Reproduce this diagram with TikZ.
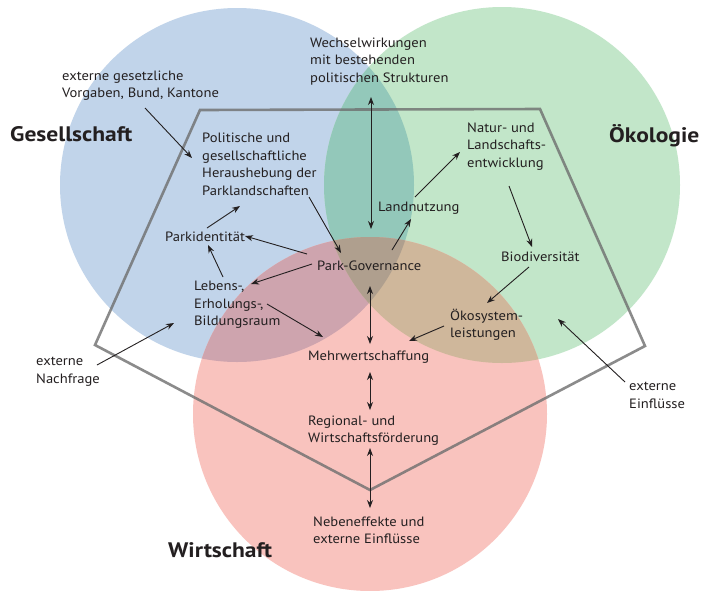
\documentclass[tikz,border=0pt]{standalone}
\usepackage{fontspec}
\setmainfont{PT Sans}[FakeStretch=1.08]
\newfontfamily\ttlfont{PT Sans}[FakeStretch=1.12]
\usetikzlibrary{arrows.meta}
\definecolor{cB}{HTML}{C1D4EA}
\definecolor{cG}{HTML}{C2E6C9}
\definecolor{cR}{HTML}{F9C3BE}
\definecolor{cBG}{HTML}{93C8BA}
\definecolor{cBR}{HTML}{CEA4AE}
\definecolor{cGR}{HTML}{CFB79B}
\definecolor{cBGR}{HTML}{AF9F8E}
\definecolor{txt}{HTML}{231F20}
\definecolor{frame}{HTML}{6E6E6E}
\tikzset{
  lbl/.style={font=\fontsize{13.5}{17.5}\selectfont, text=txt, align=left, inner sep=0pt, anchor=west},
  ttl/.style={font=\ttlfont\fontsize{21}{25}\selectfont\bfseries, text=txt, inner sep=0pt, anchor=west},
  arr/.style={draw=txt, line width=0.9pt, -{Stealth[length=8pt,width=6pt]}},
  darr/.style={draw=txt, line width=0.9pt, {Stealth[length=8pt,width=6pt]}-{Stealth[length=8pt,width=6pt]}},
  frameline/.style={draw=frame, line width=2.6pt, opacity=0.8, line join=miter}
}
\begin{document}
\begin{tikzpicture}[x=1pt,y=-1pt]
\useasboundingbox (0,0) rectangle (704,590);
\fill[white] (0,0) rectangle (704,590);
% circles
\fill[cB] (237,185) circle[radius=177pt];
\fill[cG] (502,185) circle[radius=178pt];
\fill[cR] (370,414) circle[radius=177pt];
\begin{scope}
  \clip (237,185) circle[radius=177pt];
  \fill[cBG] (502,185) circle[radius=178pt];
  \fill[cBR] (370,414) circle[radius=177pt];
\end{scope}
\begin{scope}
  \clip (502,185) circle[radius=178pt];
  \fill[cGR] (370,414) circle[radius=177pt];
\end{scope}
\begin{scope}
  \clip (237,185) circle[radius=177pt];
  \clip (502,185) circle[radius=178pt];
  \fill[cBGR] (370,414) circle[radius=177pt];
\end{scope}
% frame
\draw[frameline] (200,110) -- (540,109) -- (645,346) -- (370,490) -- (95,345) -- cycle;
% titles
\node[ttl] (ges) at (10,134) {Gesellschaft};
\node[ttl] (oek) at (609,136) {Ökologie};
\node[ttl] (wir) at (168,550) {Wirtschaft};
% labels
\node[lbl] (ext1) at (62,85.5) {externe gesetzliche\\Vorgaben, Bund, Kantone};
\node[lbl] (wech) at (310,61.5) {Wechselwirkungen\\mit bestehenden\\politischen Strukturen};
\node[lbl] (pol) at (202,164.5) {Politische und\\gesellschaftliche\\Heraushebung der\\Parklandschaften};
\node[lbl] (pid) at (165,237) {Parkidentität};
\node[lbl] (pg) at (317,266) {Park-Governance};
\node[lbl] (leb) at (194,305) {Lebens-,\\Erholungs-,\\Bildungsraum};
\node[lbl] (land) at (378,208) {Landnutzung};
\node[lbl] (nat) at (467,146.5) {Natur- und\\Landschafts-\\entwicklung};
\node[lbl] (bio) at (501,257) {Biodiversität};
\node[lbl] (oks) at (450,324.5) {Ökosystem-\\leistungen};
\node[lbl] (mw) at (308,357) {Mehrwertschaffung};
\node[lbl] (reg) at (308,430.5) {Regional- und\\Wirtschaftsförderung};
\node[lbl] (neb) at (313,530.5) {Nebeneffekte und\\externe Einflüsse};
\node[lbl] (exn) at (36,371.5) {externe\\Nachfrage};
\node[lbl] (exe) at (629,395.5) {externe\\Einflüsse};
% connector end points
\coordinate (a1) at (145,108); \coordinate (a2) at (192,158);
\coordinate (b1) at (207,228); \coordinate (b2) at (240,206);
\coordinate (c1) at (307,254); \coordinate (c2) at (245,236);
\coordinate (d1) at (309,197); \coordinate (d2) at (341,253);
\coordinate (e1) at (312,264); \coordinate (e2) at (251,284);
\coordinate (f1) at (223,277); \coordinate (f2) at (208,245);
\coordinate (g1) at (267,304); \coordinate (g2) at (323,337);
\coordinate (h1) at (97,365);  \coordinate (h2) at (174,323);
\coordinate (i1) at (371,97);  \coordinate (i2) at (371,229);
\coordinate (j1) at (392,250); \coordinate (j2) at (411,219);
\coordinate (k1) at (415,197); \coordinate (k2) at (460,152);
\coordinate (l1) at (509,186); \coordinate (l2) at (532,247);
\coordinate (m1) at (529,267); \coordinate (m2) at (487,303);
\coordinate (n1) at (444,326); \coordinate (n2) at (409,341);
\coordinate (o1) at (370,286); \coordinate (o2) at (370,344);
\coordinate (p1) at (370,372); \coordinate (p2) at (370,410);
\coordinate (q1) at (370,448); \coordinate (q2) at (370,508);
\coordinate (r1) at (625,382); \coordinate (r2) at (558,319);
% connectors
\draw[arr] (a1) -- (a2);
\draw[arr] (b1) -- (b2);
\draw[arr] (c1) -- (c2);
\draw[arr] (d1) -- (d2);
\draw[arr] (e1) -- (e2);
\draw[arr] (f1) -- (f2);
\draw[arr] (g1) -- (g2);
\draw[arr] (h1) -- (h2);
\draw[darr] (i1) -- (i2);
\draw[arr] (j1) -- (j2);
\draw[arr] (k1) -- (k2);
\draw[arr] (l1) -- (l2);
\draw[arr] (m1) -- (m2);
\draw[arr] (n1) -- (n2);
\draw[darr] (o1) -- (o2);
\draw[darr] (p1) -- (p2);
\draw[darr] (q1) -- (q2);
\draw[arr] (r1) -- (r2);
\end{tikzpicture}
\end{document}
